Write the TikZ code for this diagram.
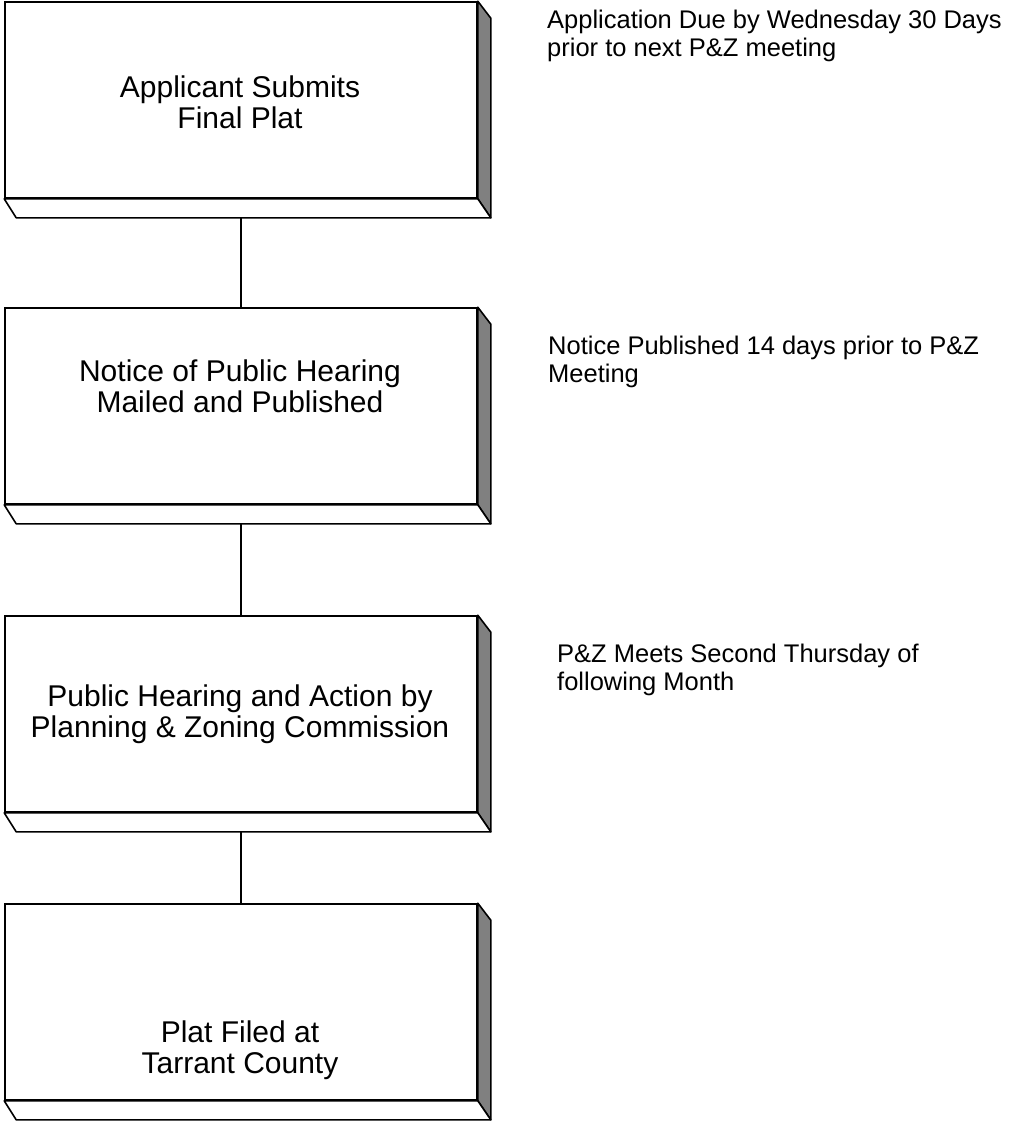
\documentclass[tikz,border=0pt]{standalone}
\usepackage{fontspec}
\setmainfont{Liberation Sans}
\usepackage{tikz}
\usetikzlibrary{calc}

\tikzset{
  face/.style={draw,line width=1.6pt,fill=white,rectangle,inner sep=0pt,
    minimum width=472pt,minimum height=196pt},
  boxtext/.style={align=center,inner sep=0pt,font=\fontsize{30}{31}\selectfont},
  note/.style={align=left,anchor=north west,inner sep=0pt,font=\fontsize{25.5}{28}\selectfont},
  side/.style={draw,line width=1.6pt,line join=round,fill=black!50},
  bevel/.style={draw,line width=1.6pt,line join=round,fill=white},
  conn/.style={draw,line width=1.6pt,shorten <=9.5pt}
}

% bevel under the front face and shaded side on its right
\newcommand{\slab}[1]{
  \path[side] (#1.north east) -- ++(13,-17) -- ($(#1.south east)+(13,-19)$)
    -- (#1.south east) -- cycle;
  \path[bevel] (#1.south west) -- ++(12,-19) -- ($(#1.south east)+(13,-19)$)
    -- (#1.south east) -- cycle;
}

\begin{document}
\begin{tikzpicture}[x=1pt,y=1pt]
  \useasboundingbox (0,0) rectangle (1010,-1122);

  % front faces
  \node[face] (f1) at (241,-100) {};
  \node[face] (f2) at (241,-406) {};
  \node[face] (f3) at (241,-714) {};
  \node[face] (f4) at (241,-1002) {};

  % connectors
  \draw[conn] (f1) -- (f2);
  \draw[conn] (f2) -- (f3);
  \draw[conn] (f3) -- (f4);

  \slab{f1}
  \slab{f2}
  \slab{f3}
  \slab{f4}

  % box texts
  \node[boxtext] (t1) at (240,-102) {Applicant Submits\\Final Plat};
  \node[boxtext] (t2) at (240,-386) {Notice of Public Hearing\\Mailed and Published};
  \node[boxtext] (t3) at (240,-714) {Public Hearing and Action by\\Planning \& Zoning Commission};
  \node[boxtext] (t4) at (240,-1050) {Plat Filed at\\Tarrant County};

  % notes on the right
  \node[note] (n1) at (547,-10) {Application Due by Wednesday 30 Days\\prior to next P\&Z meeting};
  \node[note] (n2) at (548,-336) {Notice Published 14 days prior to P\&Z\\Meeting};
  \node[note] (n3) at (557,-644) {P\&Z Meets Second Thursday of\\following Month};
\end{tikzpicture}
\end{document}
